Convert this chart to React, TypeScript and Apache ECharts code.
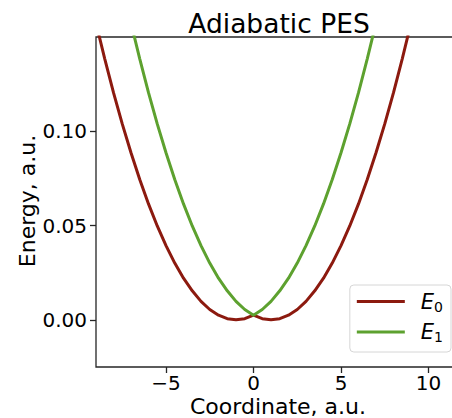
import React, { useEffect, useRef } from "react";
import * as echarts from "echarts";

const coords = [
  -9, -8.5, -8, -7.5, -7, -6.5, -6, -5.5, -5, -4.5, -4, -3.5, -3, -2.5, -2, -1.5, -1, -0.5,
  0, 0.5, 1, 1.5, 2, 2.5, 3, 3.5, 4, 4.5, 5, 5.5, 6, 6.5, 7, 7.5, 8, 8.5, 9,
];
const e0Values = [
  0.1574, 0.1384, 0.1205, 0.1039, 0.0886, 0.0744, 0.0615, 0.0498, 0.0394, 0.0301, 0.0221,
  0.0154, 0.0098, 0.0055, 0.0025, 0.0006, 0.0, 0.0006, 0.0025, 0.0006, 0.0, 0.0006, 0.0025,
  0.0055, 0.0098, 0.0154, 0.0221, 0.0301, 0.0394, 0.0498, 0.0615, 0.0744, 0.0886, 0.1039,
  0.1205, 0.1384, 0.1574,
];
const e1Values = [
  0.246, 0.222, 0.1993, 0.1777, 0.1574, 0.1384, 0.1205, 0.1039, 0.0886, 0.0744, 0.0615,
  0.0498, 0.0394, 0.0301, 0.0221, 0.0154, 0.0098, 0.0055, 0.0025, 0.0055, 0.0098, 0.0154,
  0.0221, 0.0301, 0.0394, 0.0498, 0.0615, 0.0744, 0.0886, 0.1039, 0.1205, 0.1384, 0.1574,
  0.1777, 0.1993, 0.222, 0.246,
];
const seriesNames = ["E0", "E1"];
const xTicks = [-5, 0, 5, 10];
const yTicks = [0, 0.05, 0.1];
const titleText = "Adiabatic PES";
const xLabel = "Coordinate, a.u.";
const yLabel = "Energy, a.u.";

const FONT = "DejaVu Sans";

export default function App() {
  const ref = useRef<HTMLDivElement>(null);
  useEffect(() => {
    if (!ref.current) return;
    const chart = echarts.init(ref.current, null, { renderer: "svg" });
    const colors = ["#8c1a0f", "#5da12f"];
    const valuesList = [e0Values, e1Values];
    chart.setOption({
      animation: false,
      textStyle: { fontFamily: FONT },
      grid: {
        left: 96,
        top: 37,
        right: -8,
        bottom: 51,
        show: true,
        borderColor: "#262626",
        borderWidth: 1.3,
        outerBoundsMode: "none",
        containLabel: false,
      },
      graphic: [
        {
          type: "text",
          x: 279,
          y: 23,
          style: {
            text: titleText,
            fontFamily: FONT,
            fontSize: 26.5,
            fill: "#000",
            textAlign: "center",
            textVerticalAlign: "middle",
          },
        },
        {
          type: "text",
          x: 278,
          y: 406,
          style: {
            text: xLabel,
            fontFamily: FONT,
            fontSize: 22,
            lineHeight: 20,
            fill: "#000",
            textAlign: "center",
            textVerticalAlign: "middle",
          },
        },
        {
          type: "text",
          x: 27,
          y: 201,
          rotation: Math.PI / 2,
          style: {
            text: yLabel,
            fontFamily: FONT,
            fontSize: 22,
            fill: "#000",
            textAlign: "center",
            textVerticalAlign: "middle",
          },
        },
      ],
      legend: {
        data: seriesNames,
        orient: "vertical",
        right: 1,
        top: 285,
        icon: "rect",
        itemWidth: 48,
        itemHeight: 3,
        itemGap: 8,
        padding: [6, 8, 8, 7],
        backgroundColor: "rgba(255,255,255,0.8)",
        borderColor: "#d6d6d6",
        borderWidth: 1,
        borderRadius: 4,
        formatter: (name: string) => `{i|E}{s|${name.slice(1)}}`,
        textStyle: {
          rich: {
            i: {
              fontFamily: FONT,
              fontStyle: "italic",
              fontSize: 21,
              color: "#000",
              lineHeight: 24,
              padding: [0, 0, 0, 11],
            },
            s: {
              fontFamily: FONT,
              fontSize: 14,
              color: "#000",
              padding: [10, 0, 0, 0],
            },
          },
        },
      },
      xAxis: {
        type: "value",
        min: -9,
        max: 11.8,
        splitLine: { show: false },
        axisLine: { show: false, onZero: false },
        axisTick: {
          show: true,
          length: 6,
          customValues: xTicks,
          lineStyle: { color: "#262626", width: 1.3 },
        },
        axisLabel: {
          customValues: xTicks,
          fontFamily: FONT,
          fontSize: 20,
          lineHeight: 16,
          color: "#000",
          margin: 8,
          formatter: (v: number) => String(v).replace("-", "\u2212"),
        },
      },
      yAxis: {
        type: "value",
        min: -0.025,
        max: 0.15,
        splitLine: { show: false },
        axisLine: { show: false, onZero: false },
        axisTick: {
          show: true,
          length: 6,
          customValues: yTicks,
          lineStyle: { color: "#262626", width: 1.3 },
        },
        axisLabel: {
          customValues: yTicks,
          fontFamily: FONT,
          fontSize: 20,
          color: "#000",
          margin: 9,
          formatter: (v: number) => v.toFixed(2),
        },
      },
      series: seriesNames.map((name, k) => ({
        name,
        type: "line",
        data: coords.map((x, i) => [x, valuesList[k][i]]),
        showSymbol: false,
        symbol: "none",
        smooth: false,
        clip: true,
        color: colors[k],
        lineStyle: { color: colors[k], width: 3 },
      })),
    });
    return () => chart.dispose();
  }, []);
  return (
    <div
      ref={ref}
      style={{ position: "fixed", left: 0, top: 0, width: 452, height: 418, background: "#fff" }}
    />
  );
}
